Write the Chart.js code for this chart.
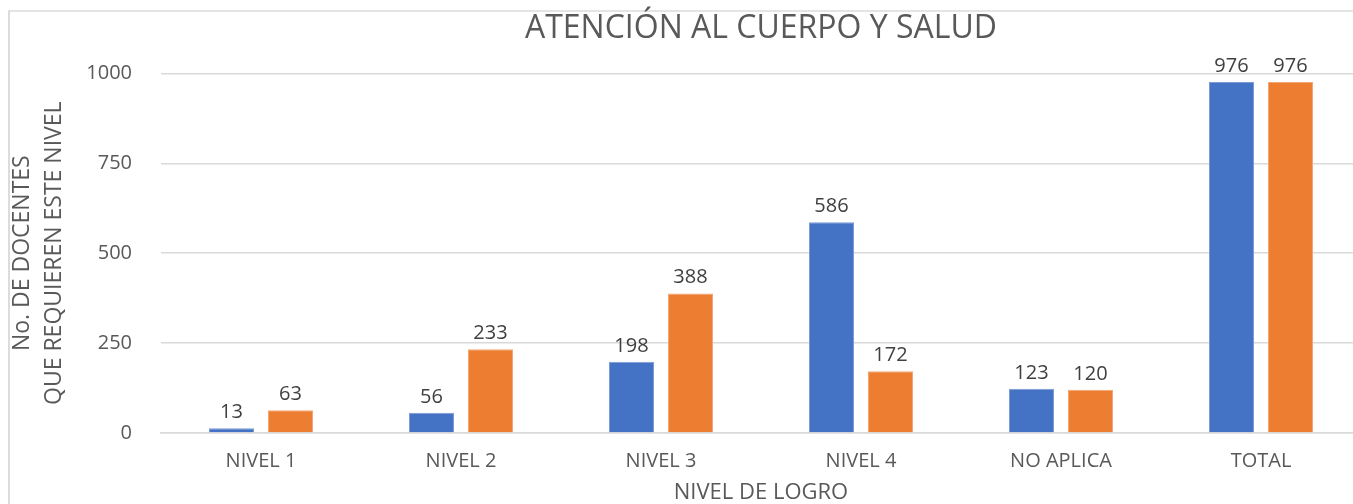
<!DOCTYPE html>
<html>
<head>
<meta charset="utf-8">
<script src="https://cdn.jsdelivr.net/npm/chart.js@4"></script>
<style>
  body { margin: 0; overflow: hidden; background: #fff; }
  #frame { position: absolute; left: 8px; top: 10px; width: 2000px; height: 2000px;
           border-left: 2px solid #dcdcdc; border-top: 2px solid #e4e4e4; }
  #wrap { position: absolute; left: 0; top: 0; width: 1361px; height: 504px; }
</style>
</head>
<body>
<div id="frame"></div>
<div id="wrap"><canvas id="logroChart"></canvas></div>
<script>
const categories = ["NIVEL 1", "NIVEL 2", "NIVEL 3", "NIVEL 4", "NO APLICA", "TOTAL"];
const serieAzul = [13, 56, 198, 586, 123, 976];
const serieNaranja = [63, 233, 388, 172, 120, 976];
const yTicks = [0, 250, 500, 750, 1000];

const textColor = '#595959';
const ctx = document.getElementById("logroChart");

// etiquetas de valor encima de cada barra
const valueLabels = {
    id: 'valueLabels',
    afterDatasetsDraw(chart) {
        const c = chart.ctx;
        c.save();
        c.font = '20px "Open Sans"';
        c.fillStyle = '#404040';
        c.textAlign = 'center';
        c.textBaseline = 'alphabetic';
        chart.data.datasets.forEach((ds, i) => {
            chart.getDatasetMeta(i).data.forEach((bar, j) => {
                c.fillText(ds.data[j], bar.x, bar.y - 10);
            });
        });
        c.restore();
    }
};

let logroChart = new Chart(ctx, {
    type: 'bar',
    data: {
        labels: categories,
        datasets: [{
            label: "Serie 1",
            data: serieAzul,
            backgroundColor: '#4472C4',
            borderColor: '#7d9bd6',
            borderWidth: 1,
            categoryPercentage: 0.59,
            barPercentage: 0.763
        }, {
            label: "Serie 2",
            data: serieNaranja,
            backgroundColor: '#ED7D31',
            borderColor: '#f3a674',
            borderWidth: 1,
            categoryPercentage: 0.59,
            barPercentage: 0.763
        }]
    },
    options: {
        responsive: true,
        maintainAspectRatio: false,
        animation: false,
        layout: { padding: 0 },
        plugins: {
            legend: { display: false },
            tooltip: { enabled: false },
            title: {
                display: true,
                fullSize: false,
                text: "ATENCIÓN AL CUERPO Y SALUD",
                color: textColor,
                font: { family: 'Open Sans', size: 32, weight: 'normal', lineHeight: 1.2 },
                padding: { top: 10, bottom: 25 }
            }
        },
        scales: {
            x: {
                grid: { display: false },
                border: { display: true, color: '#d9d9d9', width: 1.5 },
                ticks: {
                    color: textColor,
                    font: { family: 'Open Sans', size: 20 },
                    padding: 8,
                    maxRotation: 0
                },
                title: {
                    display: true,
                    text: "NIVEL DE LOGRO",
                    color: textColor,
                    font: { family: 'Open Sans', size: 22, lineHeight: 1 },
                    padding: { top: 0, bottom: 0 }
                },
                afterFit: (s) => { s.height = 71; }
            },
            y: {
                min: 0,
                max: 1000,
                afterBuildTicks: (s) => { s.ticks = yTicks.map((v) => ({ value: v })); },
                grid: { color: '#d9d9d9', lineWidth: 1.5, drawTicks: false },
                border: { display: false },
                ticks: {
                    color: textColor,
                    font: { family: 'Open Sans', size: 20 },
                    padding: 29,
                    callback: (v) => String(v)
                },
                title: {
                    display: true,
                    text: ["No. DE DOCENTES", "QUE REQUIEREN ESTE NIVEL"],
                    color: textColor,
                    font: { family: 'Open Sans', size: 23, lineHeight: 1.38 },
                    padding: { top: 7, bottom: 0 }
                },
                afterFit: (s) => { s.width = 161; }
            }
        }
    },
    plugins: [valueLabels]
});
</script>
</body>
</html>
